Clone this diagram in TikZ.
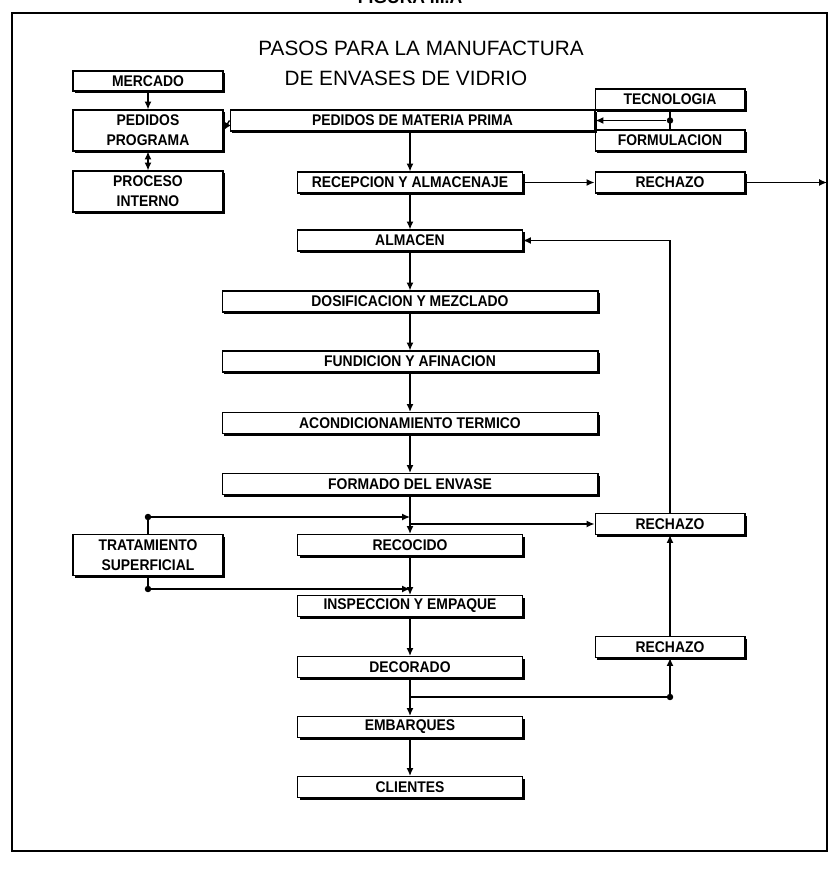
\documentclass[tikz,border=0pt]{standalone}
\usepackage{fontspec}
\setmainfont{Liberation Sans}
\newfontfamily\cajafont{Liberation Sans}[FakeStretch=0.9]
\usetikzlibrary{arrows.meta,shadows}

\begin{document}
\begin{tikzpicture}[x=0.02cm,y=-0.02cm,
    caja/.style={draw, fill=white, line width=0.6pt, inner sep=0pt,
      minimum height=0.42cm, align=center,
      font=\cajafont\bfseries\fontsize{8.8}{11.5}\selectfont,
      drop shadow={shadow xshift=1.2pt, shadow yshift=-1.2pt, opacity=1, fill=black}},
    ancha/.style={caja, minimum width=7.52cm},
    media/.style={caja, minimum width=4.5cm},
    lateral/.style={caja, minimum width=3cm},
    doble/.style={lateral, minimum height=0.82cm},
    linea/.style={line width=0.8pt},
    flecha/.style={linea, -{Latex[length=4.5pt,width=4pt]}},
    flechas/.style={linea, {Latex[length=4.5pt,width=4pt]}-{Latex[length=4.5pt,width=4pt]}},
    punto/.style={circle, fill=black, inner sep=1.3pt},
    titulo/.style={font=\fontsize{11.8}{14}\selectfont}]

  \useasboundingbox (0,0) rectangle (829,874);

  % marco y titulos
  \draw[line width=1.5pt] (12,13) rectangle (827,851);
  \node[anchor=base, font=\bfseries\fontsize{10}{12}\selectfont] (fig) at (410,3.5) {FIGURA III.A};
  \node[titulo] (tit1) at (421,48.5) {PASOS PARA LA MANUFACTURA};
  \node[titulo] (tit2) at (406,78.5) {DE ENVASES DE VIDRIO};

  % columna izquierda
  \node[lateral, minimum height=0.4cm] (merc) at (148,81) {MERCADO};
  \node[doble] (pedprog) at (148,130.5) {PEDIDOS\\PROGRAMA};
  \node[doble] (procint) at (148,191.5) {PROCESO\\INTERNO};
  \node[doble] (tratam) at (148,555) {TRATAMIENTO\\SUPERFICIAL};

  % columna derecha
  \node[lateral] (tecno) at (670,99.5) {TECNOLOGIA};
  \node[lateral] (formul) at (670,140.5) {FORMULACION};
  \node[lateral] (rech1) at (670,182.5) {RECHAZO};
  \node[lateral] (rech2) at (670,524) {RECHAZO};
  \node[lateral] (rech3) at (670,647) {RECHAZO};

  % proceso principal
  \node[caja, minimum width=7.3cm] (matprima) at (412.5,120.5) {PEDIDOS DE MATERIA PRIMA};
  \node[media] (recep) at (410,182.5) {RECEPCION Y ALMACENAJE};
  \node[media] (almacen) at (410,240.5) {ALMACEN};
  \node[ancha] (dosif) at (410,301.5) {DOSIFICACION Y MEZCLADO};
  \node[ancha] (fundic) at (410,361.5) {FUNDICION Y AFINACION};
  \node[ancha] (acond) at (410,423) {ACONDICIONAMIENTO TERMICO};
  \node[ancha] (formado) at (410,484) {FORMADO DEL ENVASE};
  \node[media] (recoc) at (410,545) {RECOCIDO};
  \node[media] (inspec) at (410,606) {INSPECCION Y EMPAQUE};
  \node[media] (decor) at (410,667) {DECORADO};
  \node[media] (embarq) at (410,727) {EMBARQUES};
  \node[media] (client) at (410,787) {CLIENTES};

  \coordinate (borde) at (827,182.5);
  \coordinate (t1) at (410,517);
  \coordinate (t2) at (410,589);
  \coordinate (d1) at (410,697);
  \node[punto] (pt1) at (148,517) {};
  \node[punto] (pt2) at (148,589) {};
  \node[punto] (pd1) at (670,697) {};
  \node[punto] (pj) at (670,120.5) {};

  % conexiones
  \draw[flecha] (merc) -- (pedprog);
  \draw[flechas] (procint) -- (pedprog);
  \draw[flecha] (matprima.west) -- (pedprog.east);
  \draw[linea] (tecno) -- (formul);
  \draw[flecha] (pj) -- (matprima.east);
  \draw[flecha] (matprima.south -| recep.north) -- (recep);
  \draw[flecha] (recep) -- (rech1);
  \draw[flecha] (rech1) -- (borde);
  \draw[flecha] (recep) -- (almacen);
  \draw[flecha] (almacen) -- (dosif);
  \draw[flecha] (dosif) -- (fundic);
  \draw[flecha] (fundic) -- (acond);
  \draw[flecha] (acond) -- (formado);
  \draw[flecha] (formado) -- (recoc);
  \draw[flecha] (formado.south |- rech2.west) -- (rech2);
  \draw[flecha] (rech2.north) |- (almacen.east);
  \draw[flecha] (rech3) -- (rech2);
  \draw[flecha] (tratam.north) |- (t1);
  \draw[flecha] (tratam.south) |- (t2);
  \draw[flecha] (recoc) -- (inspec);
  \draw[flecha] (inspec) -- (decor);
  \draw[flecha] (decor) -- (embarq);
  \draw[flecha] (d1) -| (rech3.south);
  \draw[flecha] (embarq) -- (client);
\end{tikzpicture}
\end{document}
